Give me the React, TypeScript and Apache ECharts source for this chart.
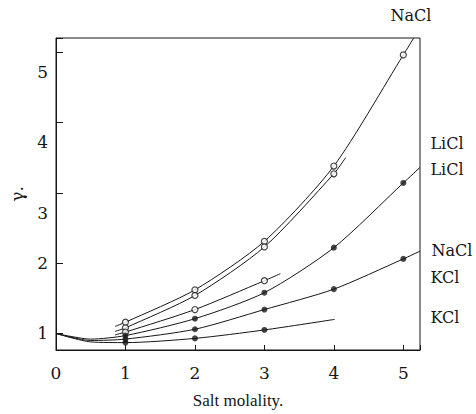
import React, { useEffect, useRef } from "react";
import * as echarts from "echarts";

const molality = [1, 2, 3, 4, 5];
const naclOpen = [1.16, 1.62, 2.31, 3.38, 4.96];
const liclOpen = [1.08, 1.54, 2.23, 3.27];
const shortOpen = [1.02, 1.34, 1.75];
const liclFilled = [0.97, 1.21, 1.58, 2.22, 3.14];
const naclFilled = [0.92, 1.06, 1.34, 1.63, 2.06];
const kclFilled = [0.87, 0.93, 1.05];

// Curve extensions (start / end portions of drawn lines without markers)
const naclOpenStart = [[0.85, 1.1]];
const naclOpenEnd = [[5.15, 5.2]];
const liclOpenStart = [[0.85, 1.03]];
const liclOpenEnd = [[4.17, 3.5]];
const shortOpenStart = [[0.85, 0.98]];
const shortOpenEnd = [[3.23, 1.85]];
const liclFilledStart = [[0, 1], [0.5, 0.92]];
const liclFilledEnd = [[5.24, 3.36]];
const naclFilledStart = [[0, 1], [0.5, 0.9]];
const naclFilledEnd = [[5.24, 2.17]];
const kclFilledStart = [[0, 1], [0.5, 0.88]];
const kclFilledEnd = [[4.01, 1.2]];

const curveLabels = [
  { text: "NaCl", x: 411, y: 15 },
  { text: "LiCl", x: 447, y: 143 },
  { text: "LiCl", x: 447, y: 169 },
  { text: "NaCl", x: 452, y: 250 },
  { text: "KCl", x: 445, y: 277 },
  { text: "KCl", x: 445, y: 317 },
];

const INK = "#161616";
const FONT = "'DejaVu Serif', 'Liberation Serif', serif";
const FONT2 = "'Liberation Serif', 'DejaVu Serif', serif";

function pts(ys: number[]) {
  return ys.map((y, i) => [molality[i], y]);
}

export default function App() {
  const ref = useRef<HTMLDivElement>(null);
  useEffect(() => {
    if (!ref.current) return;
    const chart = echarts.init(ref.current, undefined, { renderer: "svg" });
    const curves = [
      { start: naclOpenStart, ys: naclOpen, end: naclOpenEnd, open: true },
      { start: liclOpenStart, ys: liclOpen, end: liclOpenEnd, open: true },
      { start: shortOpenStart, ys: shortOpen, end: shortOpenEnd, open: true },
      { start: liclFilledStart, ys: liclFilled, end: liclFilledEnd, open: false },
      { start: naclFilledStart, ys: naclFilled, end: naclFilledEnd, open: false },
      { start: kclFilledStart, ys: kclFilled, end: kclFilledEnd, open: false },
    ];
    const series: any[] = [];
    curves.forEach((c) => {
      series.push({
        type: "line",
        data: [...c.start, ...pts(c.ys), ...c.end],
        smooth: 0.25,
        showSymbol: false,
        lineStyle: { color: INK, width: 1 },
        silent: true,
        z: 2,
      });
      series.push({
        type: "scatter",
        data: pts(c.ys),
        symbol: "circle",
        symbolSize: 6,
        itemStyle: c.open
          ? { color: "#fff", borderColor: INK, borderWidth: 1.2 }
          : { color: INK, borderColor: INK, borderWidth: 0 },
        z: 3,
      });
    });
    chart.setOption({
      animation: false,
      backgroundColor: "#fff",
      grid: {
        left: 47,
        right: 56,
        top: 38,
        bottom: 60,
        show: true,
        borderColor: INK,
        borderWidth: 1,
        backgroundColor: "transparent",
      },
      xAxis: {
        type: "value",
        min: 0,
        max: 5.24,
        splitNumber: 5,
        name: "Salt molality.",
        nameLocation: "middle",
        nameGap: 42,
        nameTextStyle: { color: INK, fontFamily: FONT2, fontSize: 17 },
        axisLine: { lineStyle: { color: INK, width: 1 } },
        axisTick: { inside: true, length: 5, lineStyle: { color: INK } },
        splitLine: { show: false },
        axisLabel: {
          color: INK,
          fontFamily: FONT,
          fontSize: 17,
          margin: 14,
          formatter: (v: number) => (Number.isInteger(v) ? String(v) : ""),
        },
      },
      yAxis: {
        type: "value",
        min: 0.765,
        max: 5.2,
        splitNumber: 5,
        name: "γ.",
        nameLocation: "middle",
        nameRotate: 90,
        nameGap: 31,
        nameTextStyle: { color: INK, fontFamily: FONT, fontSize: 17 },
        axisLine: { lineStyle: { color: INK, width: 1 } },
        axisTick: { inside: true, length: 7, lineStyle: { color: INK } },
        splitLine: { show: false },
        axisLabel: {
          color: INK,
          fontFamily: FONT,
          fontSize: 17,
          margin: 8,
          lineHeight: 40,
          formatter: (v: number) =>
            Number.isInteger(v) ? (v >= 3 ? "\n" + v : String(v)) : "",
        },
      },
      graphic: curveLabels.map((l) => ({
        type: "text",
        x: l.x,
        y: l.y,
        style: {
          text: l.text,
          fill: INK,
          font: `16px ${FONT}`,
          align: "center",
          verticalAlign: "middle",
        },
      })),
      series,
    });
    return () => chart.dispose();
  }, []);
  return (
    <div
      ref={ref}
      style={{ position: "fixed", left: 0, top: 0, width: 476, height: 414 }}
    />
  );
}
